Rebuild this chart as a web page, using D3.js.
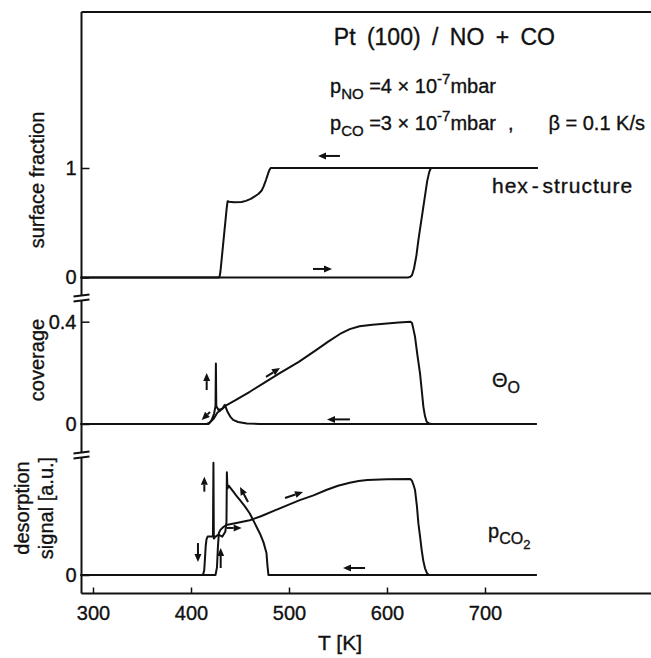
<!DOCTYPE html>
<html>
<head>
<meta charset="utf-8">
<script src="https://cdn.jsdelivr.net/npm/d3@7"></script>
<style>
  html, body { margin: 0; padding: 0; background: #fff; }
  svg { display: block; }
  text { font-family: "Liberation Sans", Arial, sans-serif; fill: #111; stroke: #111; stroke-width: 0.35px; }
</style>
</head>
<body>
<svg id="chart" width="651" height="658"></svg>
<script>
// ---------------- data ----------------
const tTicks = [300, 400, 500, 600, 700];
const topTicks = [0, 1];
const midTicks = [0, 0.4];
const botTicks = [0];

// surface fraction of hex-structure, [T (K), fraction]
const hexHeat = [[288,0],[621,0],[623.5,0.004],[625.5,0.02],[627.5,0.08],[630,0.2],[632,0.34],[634,0.46],[638,0.7],[641,0.88],[643,0.96],[644.5,0.995],[646,1],[753,1]];
const hexCool = [[753,1],[481.3,1],[480.2,0.985],[478.9,0.955],[476.5,0.89],[474,0.83],[472.1,0.795],[469,0.765],[465,0.74],[461,0.718],[456,0.7],[451.7,0.69],[444,0.688],[439,0.692],[437.4,0.697],[436.5,0.64],[430,0.05],[429.2,0.01],[428.3,0],[288,0]];

// oxygen coverage Theta_O, [T, coverage]
const covHeat = [[288,0],[418,0],[421,0.015],[423.5,0.04],[425,0.07],[425.4,0.237],[425.8,0.07],[428,0.055],[432,0.06],[436.4,0.074],[445,0.092],[460,0.126],[475,0.162],[491,0.2],[510,0.243],[528,0.29],[540,0.322],[552,0.352],[562,0.371],[572,0.382],[585,0.388],[600,0.393],[612,0.397],[624,0.4],[625.5,0.395],[627,0.37],[628.6,0.341],[631,0.27],[633.7,0.198],[635.5,0.13],[637.1,0.068],[638.8,0.03],[640.5,0.009],[643,0.002],[645.6,0],[752,0]];
const covCool = [[752,0],[470,0],[457,0.002],[448,0.008],[443,0.016],[440,0.029],[437,0.05],[434.5,0.075],[432,0.06],[429,0.05],[427,0.045],[423,0.02],[419,0.005],[416,0],[288,0]];

// CO2 desorption signal (a.u.), [T, signal]
const pco2Heat = [[288,0],[425,0],[426.5,0.08],[427.5,0.3],[428.5,0.44],[430,0.47],[433,0.5],[436,0.52],[445,0.54],[460,0.57],[472,0.615],[485,0.67],[498,0.725],[511,0.78],[525,0.83],[538,0.885],[550,0.93],[562,0.96],[571,0.98],[580,0.99],[600,0.997],[624,1.0],[625.5,0.98],[627,0.94],[628.6,0.885],[630.5,0.72],[632,0.54],[634,0.38],[635.4,0.26],[637,0.15],[638.8,0.07],[641,0.015],[643.2,0],[752,0]];
const pco2Cool = [[752,0],[479,0],[478,0.1],[477,0.23],[474,0.34],[470.4,0.43],[465,0.54],[460,0.64],[455,0.715],[450,0.78],[446,0.83],[443,0.87],[440,0.91],[438.5,0.93],[437.2,0.9],[436.6,1.07],[436.2,0.55],[435,0.45],[432,0.4],[428,0.42],[425,0.4],[423.3,0.38],[422.9,1.17],[422.4,0.4],[420,0.4],[417,0.4],[415.8,0.37],[415,0.3],[414.3,0.18],[413.5,0.05],[412.5,0.01],[411.5,0],[288,0]];

// direction arrows: [panel, T1, v1, T2, v2] (tail -> tip)
const arrows = [
  ["top", 552, 1.11, 529.6, 1.11],
  ["top", 524.5, 0.078, 543.9, 0.078],
  ["mid", 416, 0.133, 416, 0.199],
  ["mid", 419.4, 0.047, 410.9, 0.016],
  ["mid", 476.5, 0.184, 490.8, 0.219],
  ["mid", 562.2, 0.018, 538.8, 0.018],
  ["bot", 413.6, 0.868, 413.6, 1.024],
  ["bot", 407.1, 0.333, 407.1, 0.135],
  ["bot", 430.3, 0.073, 430.3, 0.281],
  ["bot", 436.4, 0.49, 451.7, 0.49],
  ["bot", 458.2, 0.76, 450, 0.917],
  ["bot", 495.9, 0.802, 514.3, 0.865],
  ["bot", 577.6, 0.073, 555.1, 0.073]
];

// ---------------- layout ----------------
const W = 651, H = 658;
const left = 81.5, topY = 12, bottomY = 593.5;
const svg = d3.select("#chart");
svg.append("rect").attr("width", W).attr("height", H).attr("fill", "#fff");

const x = d3.scaleLinear().domain([300, 700]).range([93, 485]);
const yTop = d3.scaleLinear().domain([0, 1]).range([277.5, 168]);
const yMid = d3.scaleLinear().domain([0, 0.4]).range([424, 321.7]);
const yBot = d3.scaleLinear().domain([0, 1]).range([575, 479]);
const ys = { top: yTop, mid: yMid, bot: yBot };

const ink = "#111";

// frame lines
svg.append("line").attr("x1", left).attr("x2", W).attr("y1", topY).attr("y2", topY)
  .attr("stroke", ink).attr("stroke-width", 2);
svg.append("line").attr("x1", left).attr("x2", W).attr("y1", bottomY).attr("y2", bottomY)
  .attr("stroke", ink).attr("stroke-width", 2);

// left axis in three segments with break marks
const segs = [[topY, 295.5], [300.5, 452.5], [457.5, bottomY]];
segs.forEach(s => svg.append("line").attr("x1", left).attr("x2", left).attr("y1", s[0]).attr("y2", s[1])
  .attr("stroke", ink).attr("stroke-width", 2));
[[295.5, 300.5], [452.5, 457.5]].forEach(b => {
  b.forEach(yy => svg.append("line").attr("x1", left - 8).attr("x2", left + 8)
    .attr("y1", yy + 1).attr("y2", yy - 1).attr("stroke", ink).attr("stroke-width", 2));
});

// bottom axis ticks + labels
const xAxis = d3.axisBottom(x).tickValues(tTicks).tickSize(-6).tickPadding(12).tickFormat(d3.format("d"));
const gx = svg.append("g").attr("transform", `translate(0,${bottomY})`).call(xAxis);
gx.select(".domain").remove();
gx.selectAll(".tick line").attr("stroke", ink).attr("stroke-width", 1.5);
gx.selectAll(".tick text").attr("font-size", 20).attr("font-family", "Liberation Sans, Arial, sans-serif").attr("fill", ink);

// left axes per panel
function leftAxis(scale, ticks, fmt) {
  const ax = d3.axisLeft(scale).tickValues(ticks).tickSize(-8).tickPadding(5).tickFormat(fmt);
  const g = svg.append("g").attr("transform", `translate(${left},0)`).call(ax);
  g.select(".domain").remove();
  g.selectAll(".tick line").attr("stroke", ink).attr("stroke-width", 1.5);
  g.selectAll(".tick text").attr("font-size", 20).attr("font-family", "Liberation Sans, Arial, sans-serif").attr("fill", ink);
}
leftAxis(yTop, topTicks, d3.format("d"));
leftAxis(yMid, midTicks, d => d === 0 ? "0" : d3.format(".1f")(d));
leftAxis(yBot, botTicks, d3.format("d"));

// curves
function curve(data, scale) {
  const line = d3.line().x(d => x(d[0])).y(d => scale(d[1])).curve(d3.curveLinear);
  svg.append("path").attr("d", line(data)).attr("fill", "none").attr("stroke", ink)
    .attr("stroke-width", 2).attr("stroke-linejoin", "round").attr("stroke-linecap", "round");
}
curve(hexHeat, yTop); curve(hexCool, yTop);
curve(covHeat, yMid); curve(covCool, yMid);
curve(pco2Heat, yBot); curve(pco2Cool, yBot);

// arrows
arrows.forEach(a => {
  const s = ys[a[0]];
  const x1 = x(a[1]), y1 = s(a[2]), x2 = x(a[3]), y2 = s(a[4]);
  const ang = Math.atan2(y2 - y1, x2 - x1);
  const hl = 8, hw = 3.5;
  const bx = x2 - hl * Math.cos(ang), by = y2 - hl * Math.sin(ang);
  svg.append("line").attr("x1", x1).attr("y1", y1).attr("x2", bx).attr("y2", by)
    .attr("stroke", ink).attr("stroke-width", 2);
  const px = -Math.sin(ang) * hw, py = Math.cos(ang) * hw;
  svg.append("path").attr("d", `M${x2},${y2}L${bx + px},${by + py}L${bx - px},${by - py}Z`).attr("fill", ink);
});

// texts
svg.append("text").attr("x", 555).attr("y", 45).attr("text-anchor", "end")
  .attr("font-size", 23).style("word-spacing", "5px").text("Pt (100) / NO + CO");

function pressure(yb, sub, val) {
  const t = svg.append("text").attr("x", 330).attr("y", yb).attr("font-size", 20);
  t.append("tspan").text("p");
  t.append("tspan").attr("font-size", 15).attr("dy", 6).text(sub);
  t.append("tspan").attr("dy", -6).text(" =" + val + " × 10");
  t.append("tspan").attr("font-size", 15).attr("dy", -9).text("-7");
  t.append("tspan").attr("dy", 9).text("mbar");
}
pressure(93, "NO", "4");
pressure(130, "CO", "3");
svg.append("text").attr("x", 508).attr("y", 130).attr("font-size", 20).text(",");
svg.append("text").attr("x", 645).attr("y", 130).attr("text-anchor", "end").attr("font-size", 20).text("β = 0.1 K/s");

svg.append("text").attr("x", 492).attr("y", 193).attr("font-size", 21)
  .style("letter-spacing", "1px").style("word-spacing", "-4px").text("hex - structure");

const th = svg.append("text").attr("x", 492).attr("y", 387).attr("font-size", 20);
th.append("tspan").text("Θ");
th.append("tspan").attr("font-size", 16).attr("dy", 6).text("O");

const pc = svg.append("text").attr("x", 488).attr("y", 538).attr("font-size", 20);
pc.append("tspan").text("p");
pc.append("tspan").attr("font-size", 16).attr("dy", 6).text("CO");
pc.append("tspan").attr("font-size", 13).attr("dy", 5).text("2");

svg.append("text").attr("x", 340).attr("y", 650).attr("text-anchor", "middle").attr("font-size", 21).text("T [K]");

function yTitle(lines, cy) {
  lines.forEach(l => svg.append("text").attr("transform", `translate(${l[0]},${cy}) rotate(-90)`)
    .attr("text-anchor", "middle").attr("font-size", 20).text(l[1]));
}
yTitle([[44, "surface fraction"]], 180);
yTitle([[44, "coverage"]], 360);
yTitle([[29, "desorption"], [53, "signal [a.u.]"]], 508);
</script>
</body>
</html>
